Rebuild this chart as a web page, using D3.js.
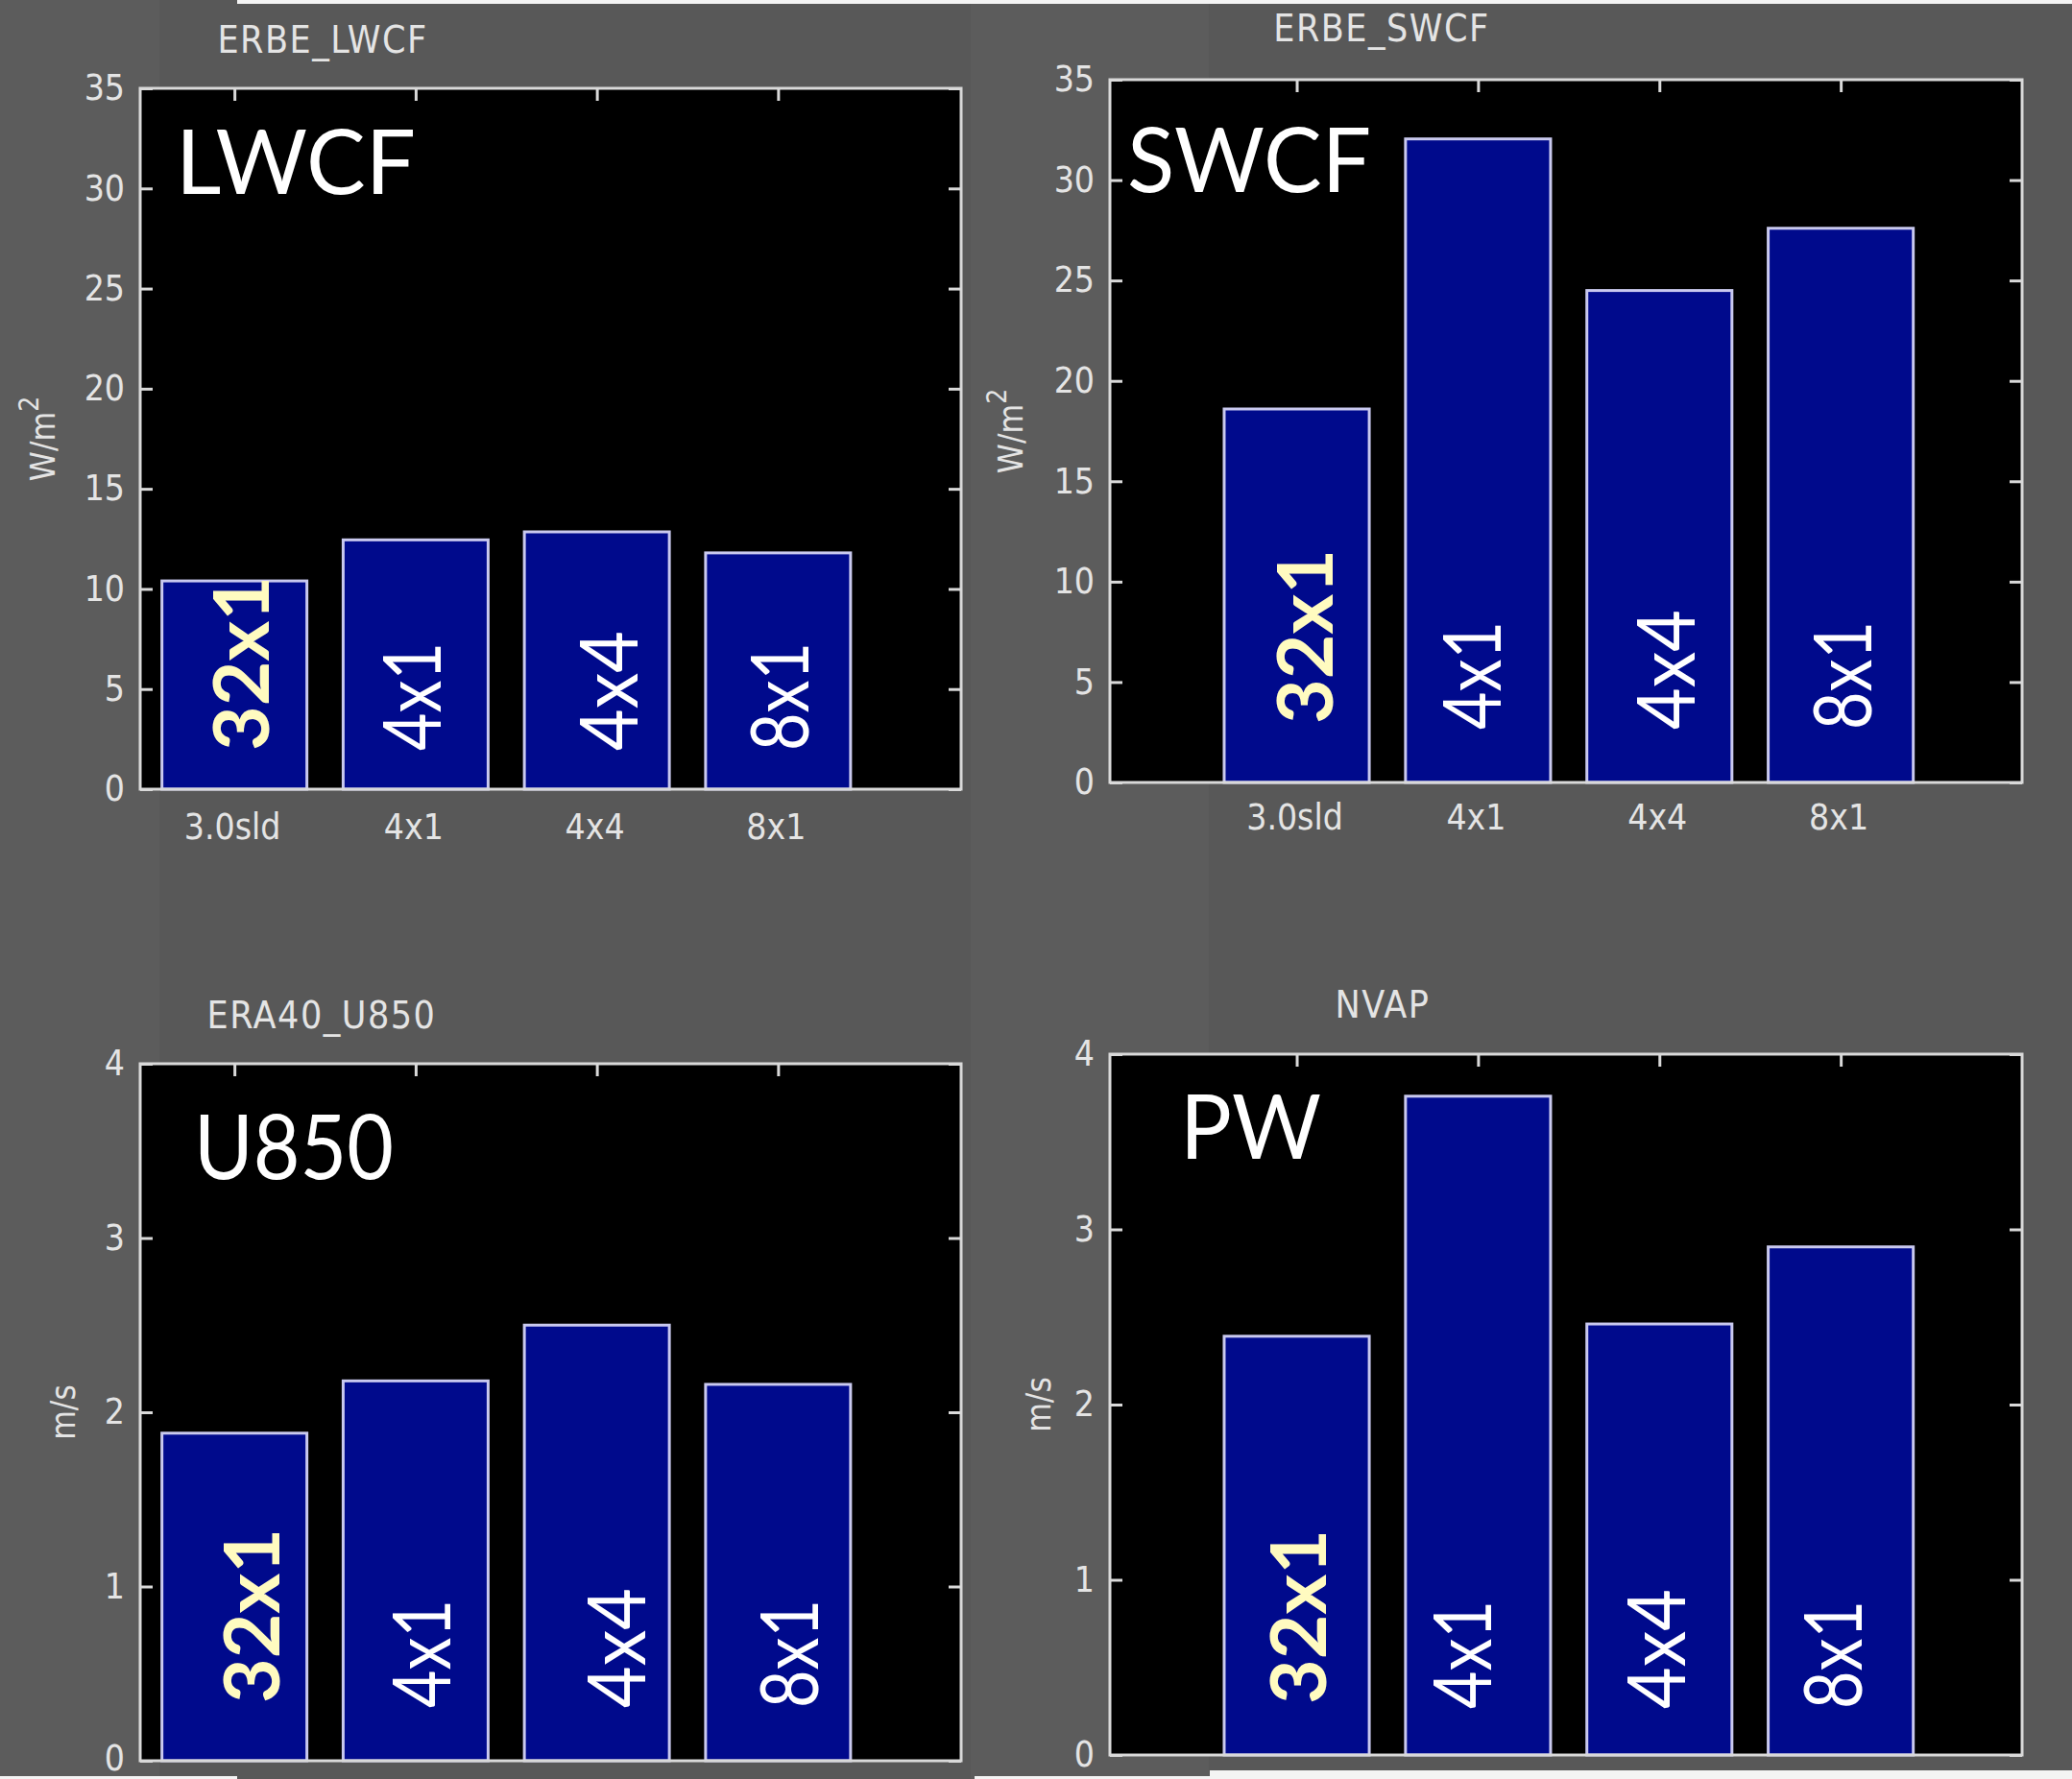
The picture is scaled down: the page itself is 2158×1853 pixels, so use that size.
<!DOCTYPE html>
<html>
<head>
<meta charset="utf-8">
<script src="https://cdn.jsdelivr.net/npm/d3@7"></script>
<style>
  html, body { margin: 0; padding: 0; background: #5a5a5a; }
  svg { display: block; }
</style>
</head>
<body>
<svg id="chart" width="2158" height="1853"></svg>
<script>
// ---------------- data ----------------
const categories   = ["3.0sld", "4x1", "4x4", "8x1"];
const barLabels    = ["32x1", "4x1", "4x4", "8x1"];
const lwcfValues   = [10.4, 12.45, 12.85, 11.8];
const swcfValues   = [18.6, 32.05, 24.5, 27.6];
const u850Values   = [1.88, 2.18, 2.50, 2.16];
const pwValues     = [2.39, 3.76, 2.46, 2.90];
const fluxTicks    = [0, 5, 10, 15, 20, 25, 30, 35];
const windTicks    = [0, 1, 2, 3, 4];
const panelTitles  = ["ERBE_LWCF", "ERBE_SWCF", "ERA40_U850", "NVAP"];
const panelTags    = ["LWCF", "SWCF", "U850", "PW"];
const unitLabels   = ["W/m", "W/m", "m/s", "m/s"];
const unitSups     = ["2", "2", "", ""];

// ---------------- layout ----------------
const panels = [
  { values: lwcfValues, ticks: fluxTicks, yMax: 35, xDom: [0.48, 5.01],
    left: 146, right: 1001, top: 92, bottom: 822,
    title: [190, -51], ylab: [-101, 0], tag: [37, 110, 250], xlab: 39,
    lab: { dx: [36, 26, 42, 32], y0: [-40, -40, -40, -40] } },
  { values: swcfValues, ticks: fluxTicks, yMax: 35, xDom: [-0.03, 5.0],
    left: 1156, right: 2106, top: 83, bottom: 815,
    title: [283, -54], ylab: [-103, 0], tag: [18, 117, 254], xlab: 36,
    lab: { dx: [37, 24, 37, 32], y0: [-61, -55, -55, -55] } },
  { values: u850Values, ticks: windTicks, yMax: 4, xDom: [0.48, 5.01],
    left: 146, right: 1001, top: 1108, bottom: 1834,
    title: [189, -51], ylab: [-80, 0], tag: [56, 120, 208], xlab: null,
    lab: { dx: [47, 36, 50, 42], y0: [-60, -55, -55, -55] } },
  { values: pwValues, ticks: windTicks, yMax: 4, xDom: [-0.03, 5.0],
    left: 1156, right: 2106, top: 1098, bottom: 1828,
    title: [284, -52], ylab: [-74, 0], tag: [73, 109, 147], xlab: null,
    lab: { dx: [30, 14, 27, 22], y0: [-53, -48, -48, -48] } }
];

const NARROW = "'Liberation Sans Narrow', 'DejaVu Sans Condensed', 'Arial Narrow', sans-serif";
const HUMAN  = "Lato, 'Open Sans', sans-serif";
const frameColor = "#d9d9d9";
const textColor  = "#e4e4e4";
const barFill    = "#000a8c";
const barStroke  = "#c9c9ef";
const yellow     = "#fffbc0";
const H = 1853;

const svg = d3.select("#chart");
// background and composite-image artefacts
svg.append("rect").attr("width", 2158).attr("height", H).attr("fill", "#585858");
svg.append("rect").attr("x", 0).attr("y", 0).attr("width", 166).attr("height", H).attr("fill", "#5c5c5c");
svg.append("rect").attr("x", 1011).attr("y", 0).attr("width", 248).attr("height", H).attr("fill", "#5c5c5c");
svg.append("rect").attr("x", 247).attr("y", 0).attr("width", 1911).attr("height", 4).attr("fill", "#f4f4f4");
svg.append("rect").attr("x", 0).attr("y", 1850).attr("width", 247).attr("height", 3).attr("fill", "#f4f4f4");
svg.append("rect").attr("x", 1015).attr("y", 1850).attr("width", 245).attr("height", 3).attr("fill", "#f4f4f4");
svg.append("rect").attr("x", 1260).attr("y", 1844).attr("width", 898).attr("height", 9).attr("fill", "#f4f4f4");

panels.forEach((p, pi) => {
  const x = d3.scaleLinear().domain(p.xDom).range([p.left, p.right]);
  const y = d3.scaleLinear().domain([0, p.yMax]).range([p.bottom, p.top]);
  const idx = categories.map((c, i) => i + 1);
  const g = svg.append("g");

  // plot background
  g.append("rect")
    .attr("x", p.left).attr("y", p.top)
    .attr("width", p.right - p.left).attr("height", p.bottom - p.top)
    .attr("fill", "#000");

  // bars
  const bw = x(1.8) - x(1.0);
  g.selectAll("rect.bar").data(p.values).join("rect")
    .attr("class", "bar")
    .attr("x", (d, i) => x(i + 1) - bw / 2)
    .attr("y", d => y(d))
    .attr("width", bw)
    .attr("height", d => y(0) - y(d))
    .attr("fill", barFill)
    .attr("stroke", barStroke)
    .attr("stroke-width", 3);

  // axes (ticks inward)
  const styleAxis = sel => {
    sel.select(".domain").remove();
    sel.selectAll(".tick line").attr("stroke", frameColor).attr("stroke-width", 3);
    sel.selectAll(".tick text").attr("fill", textColor)
      .attr("font-family", NARROW).attr("font-size", 37);
  };
  const leftAxis = g.append("g").attr("transform", `translate(${p.left},0)`)
    .call(d3.axisLeft(y).tickValues(p.ticks).tickSize(-13).tickPadding(16).tickFormat(d3.format("d")))
    .call(styleAxis);
  // keep labels near the picture's bottom edge inside it
  leftAxis.selectAll(".tick text")
    .attr("dy", d => (y(d) + 20 > H) ? `${(H - 21 - y(d)) / 37 + 0.32}em` : "0.32em");
  g.append("g").attr("transform", `translate(${p.right},0)`)
    .call(d3.axisRight(y).tickValues(p.ticks).tickSize(-13).tickFormat(""))
    .call(styleAxis);
  g.append("g").attr("transform", `translate(0,${p.top})`)
    .call(d3.axisTop(x).tickValues(idx).tickSize(-13).tickFormat(""))
    .call(styleAxis);

  // frame
  g.append("rect")
    .attr("x", p.left).attr("y", p.top)
    .attr("width", p.right - p.left).attr("height", p.bottom - p.top)
    .attr("fill", "none").attr("stroke", frameColor).attr("stroke-width", 3);

  // x labels
  if (p.xlab !== null) {
    g.selectAll("text.xl").data(categories).join("text")
      .attr("class", "xl")
      .attr("x", (d, i) => x(i + 1) - 2)
      .attr("y", p.bottom + p.xlab)
      .attr("dominant-baseline", "central")
      .attr("text-anchor", "middle")
      .attr("fill", textColor)
      .attr("font-family", NARROW).attr("font-size", 37)
      .text(d => d);
  }

  // title
  g.append("text")
    .attr("x", p.left + p.title[0]).attr("y", p.top + p.title[1])
    .attr("dominant-baseline", "central").attr("text-anchor", "middle")
    .attr("fill", textColor).attr("font-family", NARROW).attr("font-size", 39)
    .attr("letter-spacing", 1.5)
    .text(panelTitles[pi]);

  // y label
  const yl = g.append("text")
    .attr("transform", `translate(${p.left + p.ylab[0]},${(p.top + p.bottom) / 2}) rotate(-90)`)
    .attr("dominant-baseline", "central").attr("text-anchor", "middle")
    .attr("fill", textColor).attr("font-family", NARROW).attr("font-size", 35)
    .text(unitLabels[pi]);
  if (unitSups[pi]) {
    yl.append("tspan").attr("dy", -15).attr("font-size", 28).text(unitSups[pi]);
  }

  // big tag
  g.append("text")
    .attr("x", p.left + p.tag[0]).attr("y", p.top + p.tag[1])
    .attr("fill", "#ffffff").attr("font-family", HUMAN).attr("font-size", 94)
    .attr("textLength", p.tag[2]).attr("lengthAdjust", "spacingAndGlyphs")
    .text(panelTags[pi]);

  // in-bar labels
  g.selectAll("text.bl").data(barLabels).join("text")
    .attr("class", "bl")
    .attr("transform", (d, i) => `translate(${x(i + 1) + p.lab.dx[i]},${p.bottom + p.lab.y0[i]}) rotate(-90)`)
    .attr("fill", (d, i) => i === 0 ? yellow : "#ffffff")
    .attr("font-family", HUMAN)
    .attr("font-weight", (d, i) => i === 0 ? 700 : 400)
    .attr("font-size", (d, i) => i === 0 ? 80 : 84)
    .attr("textLength", (d, i) => i === 0 ? 182 : (d === "4x4" ? 125 : 113))
    .attr("lengthAdjust", "spacingAndGlyphs")
    .text(d => d);
});
</script>
</body>
</html>
